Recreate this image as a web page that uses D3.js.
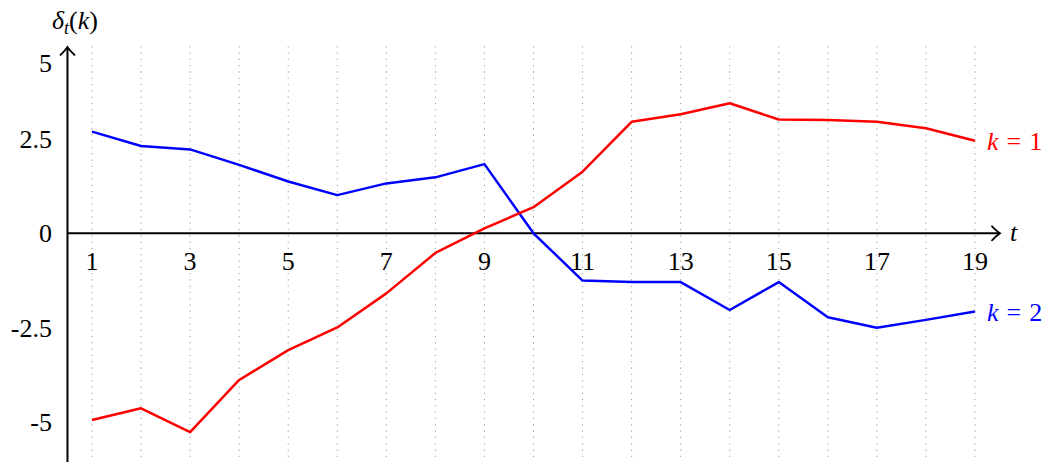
<!DOCTYPE html>
<html>
<head>
<meta charset="utf-8">
<script src="https://cdn.jsdelivr.net/npm/d3@7"></script>
<style>
  body { margin: 0; background: #fff; }
  text { font-family: "Liberation Serif", "DejaVu Serif", serif; }
</style>
</head>
<body>
<div id="chart"></div>
<script>
// data
var steps = [1, 2, 3, 4, 5, 6, 7, 8, 9, 10, 11, 12, 13, 14, 15, 16, 17, 18, 19];
var k1 = [-4.94, -4.63, -5.26, -3.88, -3.09, -2.49, -1.59, -0.52, 0.13, 0.69,
          1.63, 2.95, 3.15, 3.44, 3.01, 3.00, 2.95, 2.78, 2.45];
var k2 = [2.69, 2.31, 2.22, 1.81, 1.37, 1.01, 1.32, 1.48, 1.83, 0.0,
          -1.25, -1.29, -1.29, -2.03, -1.29, -2.22, -2.50, -2.29, -2.07];
var xTicks = [1, 3, 5, 7, 9, 11, 13, 15, 17, 19];
// the "5" label sits a bit below 5 in the original
var yTickPos = [4.5, 2.5, 0, -2.5, -5];
var yTickLabels = ["5", "2.5", "0", "-2.5", "-5"];

var svgWidth = 1057;
var svgHeight = 462;
var fs = "26px";

var svg = d3.select("#chart")
    .append("svg")
    .attr("width", svgWidth)
    .attr("height", svgHeight);

// scales
var xScale = d3.scaleLinear()
    .domain([1, 19])
    .range([92, 975]);

var yScale = d3.scaleLinear()
    .domain([-5, 0])
    .range([422.3, 233.3]);

// dotted vertical grid
svg.append("g")
    .selectAll("line")
    .data(steps)
    .enter()
    .append("line")
    .attr("x1", d => xScale(d))
    .attr("x2", d => xScale(d))
    .attr("y1", yScale(4.95))
    .attr("y2", svgHeight)
    .attr("stroke", "#9a9a9a")
    .attr("stroke-width", 1)
    .attr("stroke-dasharray", "1.2,5.1");

// axes
var x0 = xScale(0.5);
var xEnd = xScale(19.51);
var y0 = yScale(0);
var yTop = yScale(4.93);

svg.append("line")
    .attr("x1", x0).attr("x2", xEnd - 1)
    .attr("y1", y0).attr("y2", y0)
    .attr("stroke", "#000").attr("stroke-width", 2);

svg.append("line")
    .attr("x1", x0).attr("x2", x0)
    .attr("y1", svgHeight).attr("y2", yTop + 1)
    .attr("stroke", "#000").attr("stroke-width", 2);

// arrow heads (tikz style)
svg.append("path")
    .attr("d", `M${xEnd - 8},${y0 - 7} Q${xEnd - 3},${y0 - 2} ${xEnd},${y0} Q${xEnd - 3},${y0 + 2} ${xEnd - 8},${y0 + 7}`)
    .attr("fill", "none").attr("stroke", "#000").attr("stroke-width", 1.8)
    .attr("stroke-linecap", "round");

svg.append("path")
    .attr("d", `M${x0 - 7},${yTop + 8} Q${x0 - 2},${yTop + 3} ${x0},${yTop} Q${x0 + 2},${yTop + 3} ${x0 + 7},${yTop + 8}`)
    .attr("fill", "none").attr("stroke", "#000").attr("stroke-width", 1.8)
    .attr("stroke-linecap", "round");

// tick labels
svg.append("g")
    .selectAll("text")
    .data(xTicks)
    .enter()
    .append("text")
    .attr("x", d => xScale(d))
    .attr("y", y0 + 37)
    .attr("text-anchor", "middle")
    .attr("font-size", fs)
    .text(d => d);

svg.append("g")
    .selectAll("text")
    .data(yTickPos)
    .enter()
    .append("text")
    .attr("x", 52)
    .attr("y", d => yScale(d) + 9)
    .attr("text-anchor", "end")
    .attr("font-size", fs)
    .text((d, i) => yTickLabels[i]);

// lines
var line = d3.line()
    .x((d, i) => xScale(steps[i]))
    .y(d => yScale(d));

svg.append("path")
    .datum(k2)
    .attr("d", line)
    .attr("fill", "none")
    .attr("stroke", "#0000ff")
    .attr("stroke-width", 2.5)
    .attr("stroke-linejoin", "round");

svg.append("path")
    .datum(k1)
    .attr("d", line)
    .attr("fill", "none")
    .attr("stroke", "#ff0000")
    .attr("stroke-width", 2.5)
    .attr("stroke-linejoin", "round");

// series labels
function seriesLabel(val, txt, color) {
    var t = svg.append("text")
        .attr("x", xScale(19) + 12)
        .attr("y", yScale(val) + 9)
        .attr("font-size", fs)
        .attr("fill", color);
    t.append("tspan").attr("font-style", "italic").text("k");
    t.append("tspan").attr("dx", 8).text("=");
    t.append("tspan").attr("dx", 8).text(txt);
}
seriesLabel(k1[18], "1", "#ff0000");
seriesLabel(k2[18], "2", "#0000ff");

// axis titles
svg.append("text")
    .attr("x", xEnd + 10)
    .attr("y", y0 + 8)
    .attr("font-size", fs)
    .attr("font-style", "italic")
    .text("t");

var yt = svg.append("text")
    .attr("x", 52)
    .attr("y", 29)
    .attr("font-size", fs);
yt.append("tspan").attr("font-style", "italic").text("δ");
yt.append("tspan").attr("font-style", "italic").attr("font-size", "18px").attr("dy", 5).text("t");
yt.append("tspan").attr("dy", -5).text("(");
yt.append("tspan").attr("font-style", "italic").text("k");
yt.append("tspan").text(")");
</script>
</body>
</html>
